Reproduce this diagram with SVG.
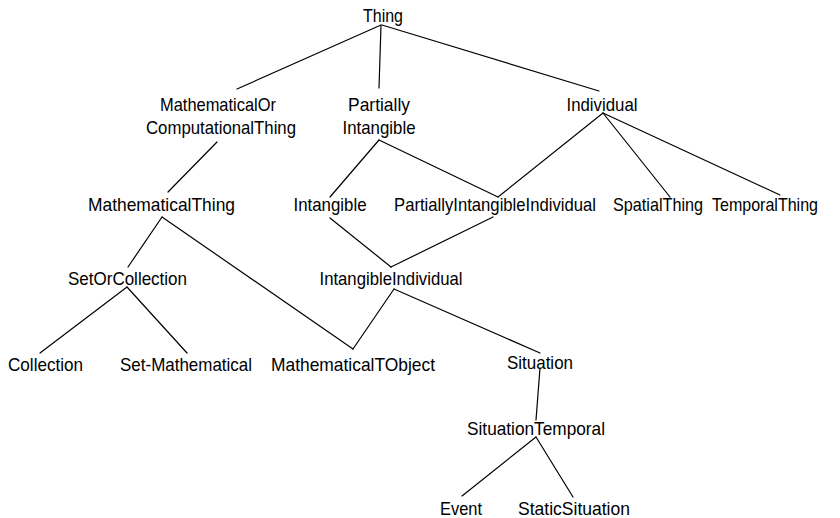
<svg xmlns="http://www.w3.org/2000/svg" width="840" height="518" viewBox="0 0 840 518">
<style>
text{font-family:"Liberation Sans",Arial,sans-serif;font-size:16.8px;fill:#000;text-anchor:middle}
#edges line{stroke:#000;stroke-width:1.2;stroke-linecap:round}
</style>
<rect width="840" height="518" fill="#fff"/>
<g id="edges">
<line x1="381" y1="25" x2="237" y2="89"/>
<line x1="381" y1="25" x2="379" y2="88"/>
<line x1="382" y1="25" x2="599" y2="91"/>
<line x1="217" y1="142" x2="168" y2="192"/>
<line x1="379" y1="140" x2="330" y2="197"/>
<line x1="379" y1="140" x2="498" y2="197"/>
<line x1="603" y1="113" x2="498" y2="197"/>
<line x1="603" y1="113" x2="670" y2="197"/>
<line x1="603" y1="113" x2="780" y2="195"/>
<line x1="330" y1="218" x2="391" y2="267"/>
<line x1="493" y1="217" x2="391" y2="267"/>
<line x1="162" y1="217" x2="128" y2="267"/>
<line x1="162" y1="217" x2="353" y2="349"/>
<line x1="127" y1="287" x2="40" y2="353"/>
<line x1="127" y1="287" x2="187" y2="353"/>
<line x1="394" y1="289" x2="353" y2="349"/>
<line x1="394" y1="289" x2="540" y2="353"/>
<line x1="540" y1="368" x2="536" y2="420"/>
<line x1="536" y1="437" x2="462" y2="496"/>
<line x1="536" y1="437" x2="573" y2="497"/>
</g>
<g id="n-thing"><text transform="translate(383,22) scale(1,1.13)" textLength="40" lengthAdjust="spacingAndGlyphs">Thing</text></g>
<g id="n-mathorcomp"><text transform="translate(218,111) scale(1,1.13)" textLength="116" lengthAdjust="spacingAndGlyphs">MathematicalOr</text><text transform="translate(221,134) scale(1,1.13)" textLength="150" lengthAdjust="spacingAndGlyphs">ComputationalThing</text></g>
<g id="n-partint"><text transform="translate(379,111) scale(1,1.13)" textLength="62" lengthAdjust="spacingAndGlyphs">Partially</text><text transform="translate(379,134) scale(1,1.13)" textLength="73" lengthAdjust="spacingAndGlyphs">Intangible</text></g>
<g id="n-individual"><text transform="translate(602,111) scale(1,1.13)" textLength="71" lengthAdjust="spacingAndGlyphs">Individual</text></g>
<g id="n-maththing"><text transform="translate(161.5,211) scale(1,1.13)" textLength="147" lengthAdjust="spacingAndGlyphs">MathematicalThing</text></g>
<g id="n-intangible"><text transform="translate(330,211) scale(1,1.13)" textLength="73" lengthAdjust="spacingAndGlyphs">Intangible</text></g>
<g id="n-pii"><text transform="translate(495,211) scale(1,1.13)" textLength="202" lengthAdjust="spacingAndGlyphs">PartiallyIntangibleIndividual</text></g>
<g id="n-spatial"><text transform="translate(658,211) scale(1,1.13)" textLength="90" lengthAdjust="spacingAndGlyphs">SpatialThing</text></g>
<g id="n-temporal"><text transform="translate(765,211) scale(1,1.13)" textLength="106" lengthAdjust="spacingAndGlyphs">TemporalThing</text></g>
<g id="n-setorcoll"><text transform="translate(127.5,285) scale(1,1.13)" textLength="119" lengthAdjust="spacingAndGlyphs">SetOrCollection</text></g>
<g id="n-intind"><text transform="translate(391,285) scale(1,1.13)" textLength="143" lengthAdjust="spacingAndGlyphs">IntangibleIndividual</text></g>
<g id="n-collection"><text transform="translate(45.5,371) scale(1,1.13)" textLength="75" lengthAdjust="spacingAndGlyphs">Collection</text></g>
<g id="n-setmath"><text transform="translate(186,371) scale(1,1.13)" textLength="132" lengthAdjust="spacingAndGlyphs">Set-Mathematical</text></g>
<g id="n-mathtobj"><text transform="translate(353,371) scale(1,1.13)" textLength="164" lengthAdjust="spacingAndGlyphs">MathematicalTObject</text></g>
<g id="n-situation"><text transform="translate(540,369) scale(1,1.13)" textLength="66" lengthAdjust="spacingAndGlyphs">Situation</text></g>
<g id="n-sittemp"><text transform="translate(536,435) scale(1,1.13)" textLength="138" lengthAdjust="spacingAndGlyphs">SituationTemporal</text></g>
<g id="n-event"><text transform="translate(461,515) scale(1,1.13)" textLength="42" lengthAdjust="spacingAndGlyphs">Event</text></g>
<g id="n-staticsit"><text transform="translate(574,515) scale(1,1.13)" textLength="112" lengthAdjust="spacingAndGlyphs">StaticSituation</text></g>
</svg>
